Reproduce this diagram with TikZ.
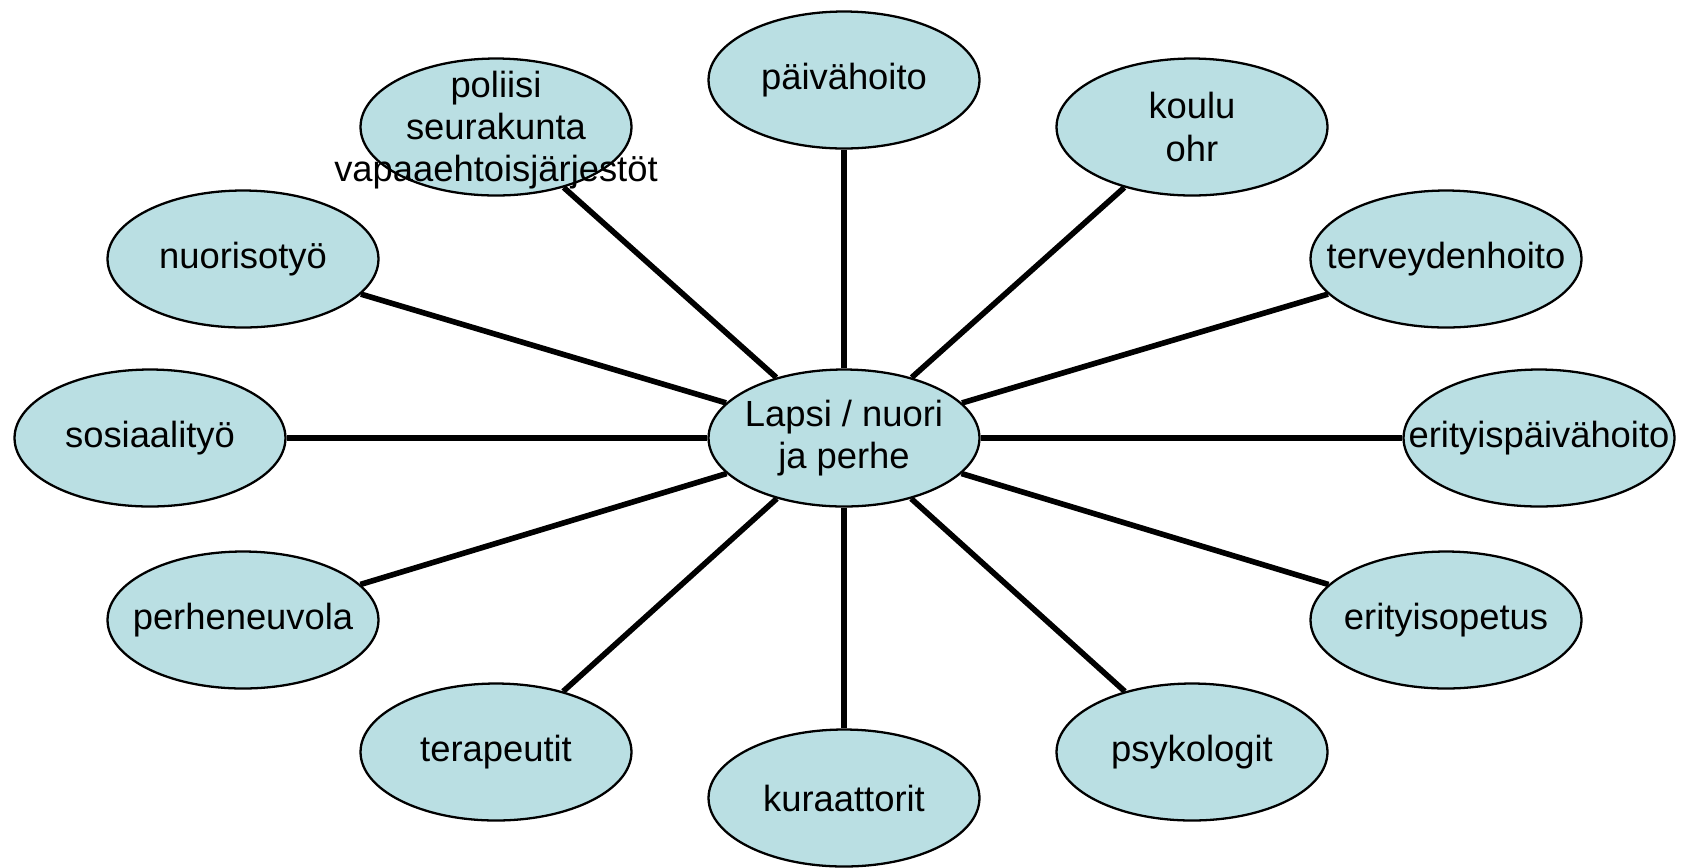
\documentclass[tikz,border=0pt]{standalone}
\usepackage{fontspec}
\setmainfont{Liberation Sans}
\usetikzlibrary{shapes.geometric}
\definecolor{unitfill}{RGB}{186,223,227}
\begin{document}
\begin{tikzpicture}[x=0.02cm, y=-0.02cm,
		unit/.style={ellipse, draw, line width=1.3pt, fill=unitfill, minimum width=5.42cm, minimum height=2.74cm, inner sep=0pt},
		txt/.style={align=center, inner sep=0pt, font=\fontsize{20.7}{24}\selectfont},
		link/.style={line width=3.2pt}]
	\useasboundingbox (0,0) rectangle (1684,867);

	% ellipses
	\node[unit] (lapsi) at (844,438) {};
	\node[unit] (paiva) at (844,80) {};
	\node[unit] (koulu) at (1192,127) {};
	\node[unit] (terveys) at (1446,259) {};
	\node[unit] (erpaiva) at (1539,438) {};
	\node[unit] (eropetus) at (1446,620) {};
	\node[unit] (psyk) at (1192,752) {};
	\node[unit] (kura) at (844,798) {};
	\node[unit] (tera) at (496,752) {};
	\node[unit] (perhe) at (243,620) {};
	\node[unit] (sosi) at (150,438) {};
	\node[unit] (nuoriso) at (243,259) {};
	\node[unit] (poliisi) at (496,127) {};

	% connectors
	\draw[link] (lapsi) -- (paiva);
	\draw[link] (lapsi) -- (koulu);
	\draw[link] (lapsi) -- (terveys);
	\draw[link] (lapsi) -- (erpaiva);
	\draw[link] (lapsi) -- (eropetus);
	\draw[link] (lapsi) -- (psyk);
	\draw[link] (lapsi) -- (kura);
	\draw[link] (lapsi) -- (tera);
	\draw[link] (lapsi) -- (perhe);
	\draw[link] (lapsi) -- (sosi);
	\draw[link] (lapsi) -- (nuoriso);
	\draw[link] (lapsi) -- (poliisi);

	% texts
	\node[txt] (lapsi-t) at (lapsi) {Lapsi / nuori\\ja perhe};
	\node[txt] (paiva-t) at (paiva) {päivähoito};
	\node[txt] (koulu-t) at (koulu) {koulu\\ohr};
	\node[txt] (terveys-t) at (terveys) {terveydenhoito};
	\node[txt] (erpaiva-t) at (erpaiva) {erityispäivähoito};
	\node[txt] (eropetus-t) at (eropetus) {erityisopetus};
	\node[txt] (psyk-t) at (psyk) {psykologit};
	\node[txt] (kura-t) at (kura) {kuraattorit};
	\node[txt] (tera-t) at (tera) {terapeutit};
	\node[txt] (perhe-t) at (perhe) {perheneuvola};
	\node[txt] (sosi-t) at (sosi) {sosiaalityö};
	\node[txt] (nuoriso-t) at (nuoriso) {nuorisotyö};
	\node[txt] (poliisi-t) at ([yshift=-0.06cm]poliisi) {poliisi\\seurakunta\\vapaaehtoisjärjestöt};
\end{tikzpicture}
\end{document}
